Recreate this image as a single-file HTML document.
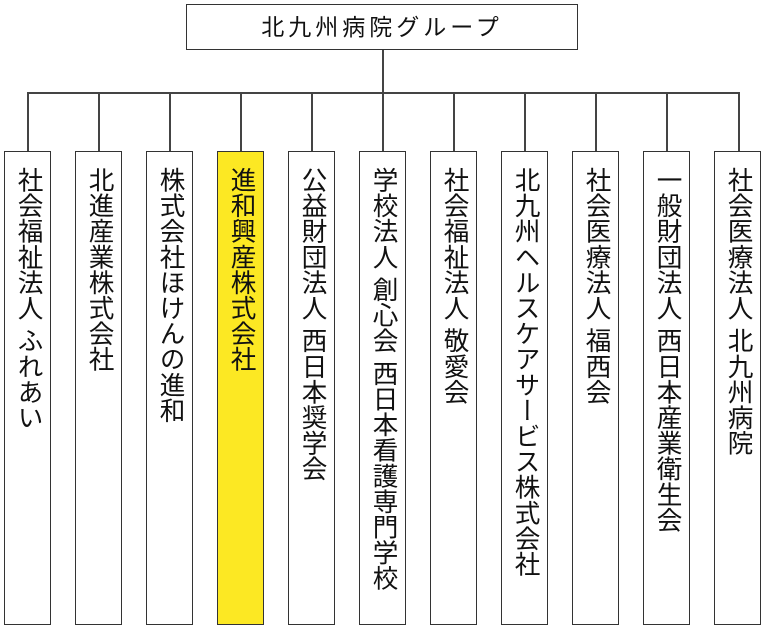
<!DOCTYPE html>
<html><head><meta charset="utf-8"><style>
body{margin:0;width:765px;height:630px;background:#fff;position:relative;overflow:hidden;font-family:"Liberation Sans","Noto Sans CJK JP",sans-serif;}
.top{position:absolute;left:186px;top:4px;width:390px;height:44px;border:1.5px solid #333;font-size:23px;line-height:44px;text-align:center;color:#111;letter-spacing:4px}
.l{position:absolute;background:#444}
.b{position:absolute;top:151px;border:1.5px solid #333;background:#fff;writing-mode:vertical-rl;font-size:25.6px;line-height:44px;padding-top:15px;box-sizing:border-box;width:47px;height:474px;color:#111}
</style></head><body>
<div class="top">北九州病院グループ</div>
<div class="l" style="left:382px;top:50px;width:1.5px;height:43px"></div>
<div class="l" style="left:27px;top:92px;width:713px;height:1.5px"></div>
<div class="l" style="left:27px;top:92px;width:1.5px;height:60px"></div>
<div class="l" style="left:98px;top:92px;width:1.5px;height:60px"></div>
<div class="l" style="left:169px;top:92px;width:1.5px;height:60px"></div>
<div class="l" style="left:240px;top:92px;width:1.5px;height:60px"></div>
<div class="l" style="left:311px;top:92px;width:1.5px;height:60px"></div>
<div class="l" style="left:382px;top:92px;width:1.5px;height:60px"></div>
<div class="l" style="left:453px;top:92px;width:1.5px;height:60px"></div>
<div class="l" style="left:524px;top:92px;width:1.5px;height:60px"></div>
<div class="l" style="left:595px;top:92px;width:1.5px;height:60px"></div>
<div class="l" style="left:666px;top:92px;width:1.5px;height:60px"></div>
<div class="l" style="left:738px;top:92px;width:1.5px;height:60px"></div>
<div class="b" style="left:4px">社会福祉法人 ふれあい</div>
<div class="b" style="left:75px">北進産業株式会社</div>
<div class="b" style="left:146px">株式会社ほけんの進和</div>
<div class="b" style="left:217px;background:#fce823">進和興産株式会社</div>
<div class="b" style="left:288px">公益財団法人 西日本奨学会</div>
<div class="b" style="left:359px">学校法人 創心会 西日本看護専門学校</div>
<div class="b" style="left:430px">社会福祉法人 敬愛会</div>
<div class="b" style="left:501px">北九州ヘルスケアサービス株式会社</div>
<div class="b" style="left:572px">社会医療法人 福西会</div>
<div class="b" style="left:643px">一般財団法人 西日本産業衛生会</div>
<div class="b" style="left:714px">社会医療法人 北九州病院</div>
</body></html>
